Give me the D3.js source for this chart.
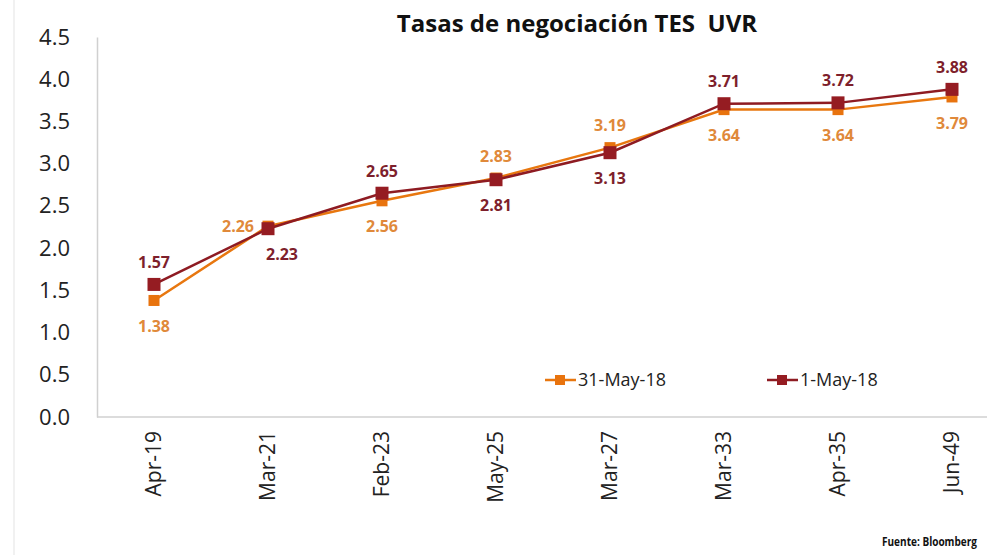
<!DOCTYPE html>
<html>
<head>
<meta charset="utf-8">
<script src="https://cdn.jsdelivr.net/npm/d3@7"></script>
<style>
  html, body { margin: 0; padding: 0; background: #fff; overflow: hidden; }
  svg { display: block; font-family: "Open Sans", sans-serif; }
</style>
</head>
<body>
<div id="chart-area"></div>
<script>
// chart data
const categories = ["Apr-19", "Mar-21", "Feb-23", "May-25", "Mar-27", "Mar-33", "Apr-35", "Jun-49"];
const may31 = [1.38, 2.26, 2.56, 2.83, 3.19, 3.64, 3.64, 3.79];
const may1 = [1.57, 2.23, 2.65, 2.81, 3.13, 3.71, 3.72, 3.88];
const yTicks = [0, 0.5, 1, 1.5, 2, 2.5, 3, 3.5, 4, 4.5];
const seriesNames = ["31-May-18", "1-May-18"];

const WIDTH = 987, HEIGHT = 555;
const series = [
    {name: seriesNames[0], values: may31, line: "#E8770F", marker: "#E8730E", label: "#E0893A", size: 11},
    {name: seriesNames[1], values: may1, line: "#8E1B22", marker: "#951C22", label: "#7E1F2C", size: 13}
];

const svg = d3.select("#chart-area").append("svg")
    .attr("width", WIDTH)
    .attr("height", HEIGHT);

// faint outer frame on the left
svg.append("line")
    .attr("x1", 14).attr("x2", 14)
    .attr("y1", 0).attr("y2", HEIGHT)
    .attr("stroke", "#ececec").attr("stroke-width", 1.5);

const xScale = d3.scaleBand().domain(categories).range([97, 1009]);
const yScale = d3.scaleLinear().domain([0, 4.5]).range([417, 37]);
const cx = d => xScale(d) + xScale.bandwidth() / 2;

// title (keeps the double space)
svg.append("text")
    .attr("x", 577).attr("y", 32)
    .attr("text-anchor", "middle")
    .attr("font-size", 24).attr("font-weight", 700)
    .attr("fill", "#111")
    .style("white-space", "pre")
    .text("Tasas de negociación TES  UVR");

// y axis
const yAxis = svg.append("g")
    .attr("transform", "translate(97,0)")
    .call(d3.axisLeft(yScale).tickValues(yTicks).tickSize(0).tickPadding(27).tickFormat(d3.format(".1f")));
yAxis.select(".domain").attr("stroke", "#d0d0d0").attr("stroke-width", 1.5);
yAxis.selectAll("text").attr("font-size", 22).attr("fill", "#222").attr("font-family", "Open Sans");

// x axis
const xAxis = svg.append("g")
    .attr("transform", "translate(0,417)")
    .call(d3.axisBottom(xScale).tickSize(0).tickPadding(0));
xAxis.select(".domain").remove();
svg.append("line")
    .attr("x1", 97).attr("x2", WIDTH)
    .attr("y1", 417).attr("y2", 417)
    .attr("stroke", "#d0d0d0").attr("stroke-width", 1.5);
xAxis.selectAll("text")
    .attr("font-size", 21).attr("fill", "#222").attr("font-family", "Open Sans")
    .attr("text-anchor", "end")
    .attr("transform", "rotate(-90)")
    .attr("x", -14).attr("y", 0).attr("dy", "0.35em");

// lines and markers
const line = d3.line()
    .x((d, i) => cx(categories[i]))
    .y(d => yScale(d));

series.forEach(s => {
    svg.append("path")
        .attr("d", line(s.values))
        .attr("fill", "none")
        .attr("stroke", s.line)
        .attr("stroke-width", 2.5);
    svg.append("g").selectAll("rect")
        .data(s.values)
        .join("rect")
        .attr("x", (d, i) => cx(categories[i]) - s.size / 2)
        .attr("y", d => yScale(d) - s.size / 2)
        .attr("width", s.size).attr("height", s.size)
        .attr("fill", s.marker);
});

// data labels: higher value above, lower below; the close pair at Mar-21 goes left/right
series.forEach((s, si) => {
    const other = series[1 - si].values;
    svg.append("g").selectAll("text")
        .data(s.values)
        .join("text")
        .each(function (d, i) {
            const x = cx(categories[i]);
            const y = yScale(d);
            const sel = d3.select(this);
            const higher = d >= other[i];
            if (higher && Math.abs(d - other[i]) < 0.05 && i === 1) {
                sel.attr("x", x - 14).attr("y", y).attr("text-anchor", "end");
            } else if (higher) {
                sel.attr("x", x).attr("y", y - 22).attr("text-anchor", "middle");
            } else {
                sel.attr("x", x + (i === 1 ? 14 : 0)).attr("y", y + 26).attr("text-anchor", "middle");
            }
        })
        .attr("dy", "0.35em")
        .attr("font-size", 16).attr("font-weight", 700)
        .attr("fill", s.label)
        .text(d => d3.format(".2f")(d));
});

// legend
const legendX = [545, 767];
series.forEach((s, i) => {
    const g = svg.append("g").attr("transform", `translate(${legendX[i]},380)`);
    g.append("line").attr("x1", 0).attr("x2", 31).attr("y1", 0).attr("y2", 0)
        .attr("stroke", s.line).attr("stroke-width", 2.5);
    g.append("rect").attr("x", 10).attr("y", -5).attr("width", 10).attr("height", 10)
        .attr("fill", s.marker);
    g.append("text").attr("x", 33).attr("y", 0).attr("dy", "0.35em")
        .attr("font-size", 18).attr("fill", "#222")
        .text(s.name);
});

// source note, squeezed to fit like the condensed original
svg.append("text")
    .attr("x", 882).attr("y", 546)
    .attr("font-size", 12).attr("font-weight", 700)
    .attr("textLength", 95).attr("lengthAdjust", "spacingAndGlyphs")
    .attr("fill", "#111")
    .text("Fuente: Bloomberg");
</script>
</body>
</html>
